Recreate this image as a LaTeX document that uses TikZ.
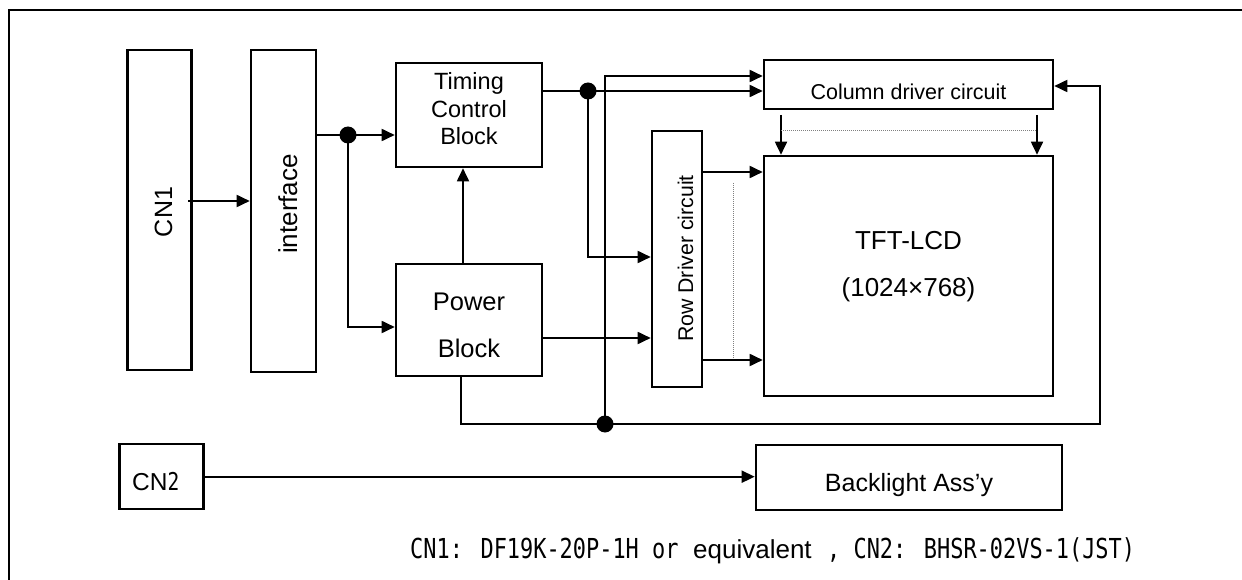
\documentclass[tikz,border=0pt]{standalone}
\usepackage{fontspec}
\setmainfont{Liberation Sans}
\newfontfamily\gulim[FakeStretch=0.797]{DejaVu Sans Mono}
\usetikzlibrary{arrows.meta}
\begin{document}
\begin{tikzpicture}[x=1pt,y=-1pt,
  box/.style={draw, line width=2.6pt, rectangle, inner sep=0pt},
  conn/.style={line width=1.8pt},
  arr/.style={conn, -{Triangle[length=13pt,width=12pt]}},
  dot/.style={circle, fill, inner sep=0pt, minimum size=17pt},
  dotline/.style={gray, line width=0.9pt, dash pattern=on 1pt off 1pt},
  fs/.style={font=\fontsize{#1}{#1}\selectfont},
]
\useasboundingbox (0,0) rectangle (1242,580);
\fill[white] (0,0) rectangle (1242,580);
% outer frame (only left and top edges visible)
\draw[line width=2.5pt] (9,582) -- (9,10) -- (1244,10);

% boxes
\node[box, minimum width=64pt, minimum height=320pt] (cn1) at (159.5,210) {};
\node[box, minimum width=65pt, minimum height=322pt] (iface) at (283.5,211) {};
\node[box, minimum width=146pt, minimum height=104pt] (timing) at (469,115) {};
\node[box, minimum width=146pt, minimum height=112pt] (power) at (469,320) {};
\node[box, minimum width=289pt, minimum height=49pt] (col) at (908.5,84.5) {};
\node[box, minimum width=289pt, minimum height=240pt] (tft) at (908.5,276) {};
\node[box, minimum width=50pt, minimum height=256pt] (row) at (677,259) {};
\node[box, minimum width=84pt, minimum height=65pt] (cn2) at (161.3,476.5) {};
\node[box, minimum width=306pt, minimum height=65pt] (back) at (909,477.5) {};

% texts
\node[fs=25, rotate=90, anchor=base, inner sep=0pt] (cn1t) at (172,212) {CN1};
\node[fs=26, rotate=90, anchor=base, inner sep=0pt] (ifacet) at (297,204) {interface};
\node[fs=23.5, anchor=base, inner sep=0pt] (timt1) at (469,90) {Timing};
\node[fs=23.5, anchor=base, inner sep=0pt] (timt2) at (469,117.5) {Control};
\node[fs=23.5, anchor=base, inner sep=0pt] (timt3) at (469,145) {Block};
\node[fs=25.5, anchor=base, inner sep=0pt] (powt1) at (469,310) {Power};
\node[fs=25.5, anchor=base, inner sep=0pt] (powt2) at (469,357) {Block};
\node[fs=21.5, anchor=base, inner sep=0pt] (colt) at (908.5,100) {Column driver circuit};
\node[fs=26, anchor=base, inner sep=0pt] (tftt1) at (908.5,250) {TFT-LCD};
\node[fs=26, anchor=base, inner sep=0pt] (tftt2) at (908.5,296) {(1024×768)};
\node[fs=21.3, rotate=90, anchor=base, inner sep=0pt] (rowt) at (693,258.5) {Row Driver circuit};
\node[fs=24.5, anchor=base west, inner sep=0pt] (cn2t) at (132,490) {CN{\gulim 2}};
\node[fs=25, anchor=base, inner sep=0pt] (backt) at (909,491.5) {Backlight Ass’y};

% footnote
\node[anchor=base west, inner sep=0pt, font=\gulim\fontsize{27.5}{27.5}\selectfont] (fn1) at (410,558) {CN1: DF19K-20P-1H or};
\node[fs=26, anchor=base west, inner sep=0pt] (fn2) at (693,558) {equivalent};
\node[anchor=base west, inner sep=0pt, font=\gulim\fontsize{27.5}{27.5}\selectfont] (fn3) at (827,558) {, CN2: BHSR-02VS-1(JST)};

% junctions
\coordinate (j1) at (348,135);
\coordinate (j2) at (588,91);
\coordinate (j3) at (605,424);
\coordinate (c1) at (781,115);
\coordinate (c2) at (1037,115);

% connectors
\draw[arr] (188,201) -- (iface.west |- 0,201);
\draw[arr] (iface.east |- j1) -- (timing.west |- j1);
\draw[arr] (j1) |- (power.west |- 0,327);
\draw[arr] (power.north -| 463,0) -- (timing.south -| 463,0);
\draw[arr] (timing.east |- j2) -- (col.west |- j2);
\draw[arr] (j2) |- (row.west |- 0,257);
\draw[arr] (j3) |- (col.west |- 0,76);
\draw[arr] (power.south -| 461,0) |- (1100,424) |- (col.east |- 0,86);
\draw[arr] (power.east |- 0,338) -- (row.west |- 0,338);
\draw[arr] (row.east |- 0,172) -- (tft.west |- 0,172);
\draw[arr] (row.east |- 0,360) -- (tft.west |- 0,360);
\draw[arr] (c1) -- (tft.north -| c1);
\draw[arr] (c2) -- (tft.north -| c2);
\draw[arr] (cn2.east |- 0,476.7) -- (back.west |- 0,476.7);

% dotted lines
\draw[dotline] (781,130) -- (1037,130);
\draw[dotline] (733,183) -- (733,358);

% dots
\node[dot] (d1) at (j1) {};
\node[dot] (d2) at (j2) {};
\node[dot] (d3) at (j3) {};
\end{tikzpicture}
\end{document}
